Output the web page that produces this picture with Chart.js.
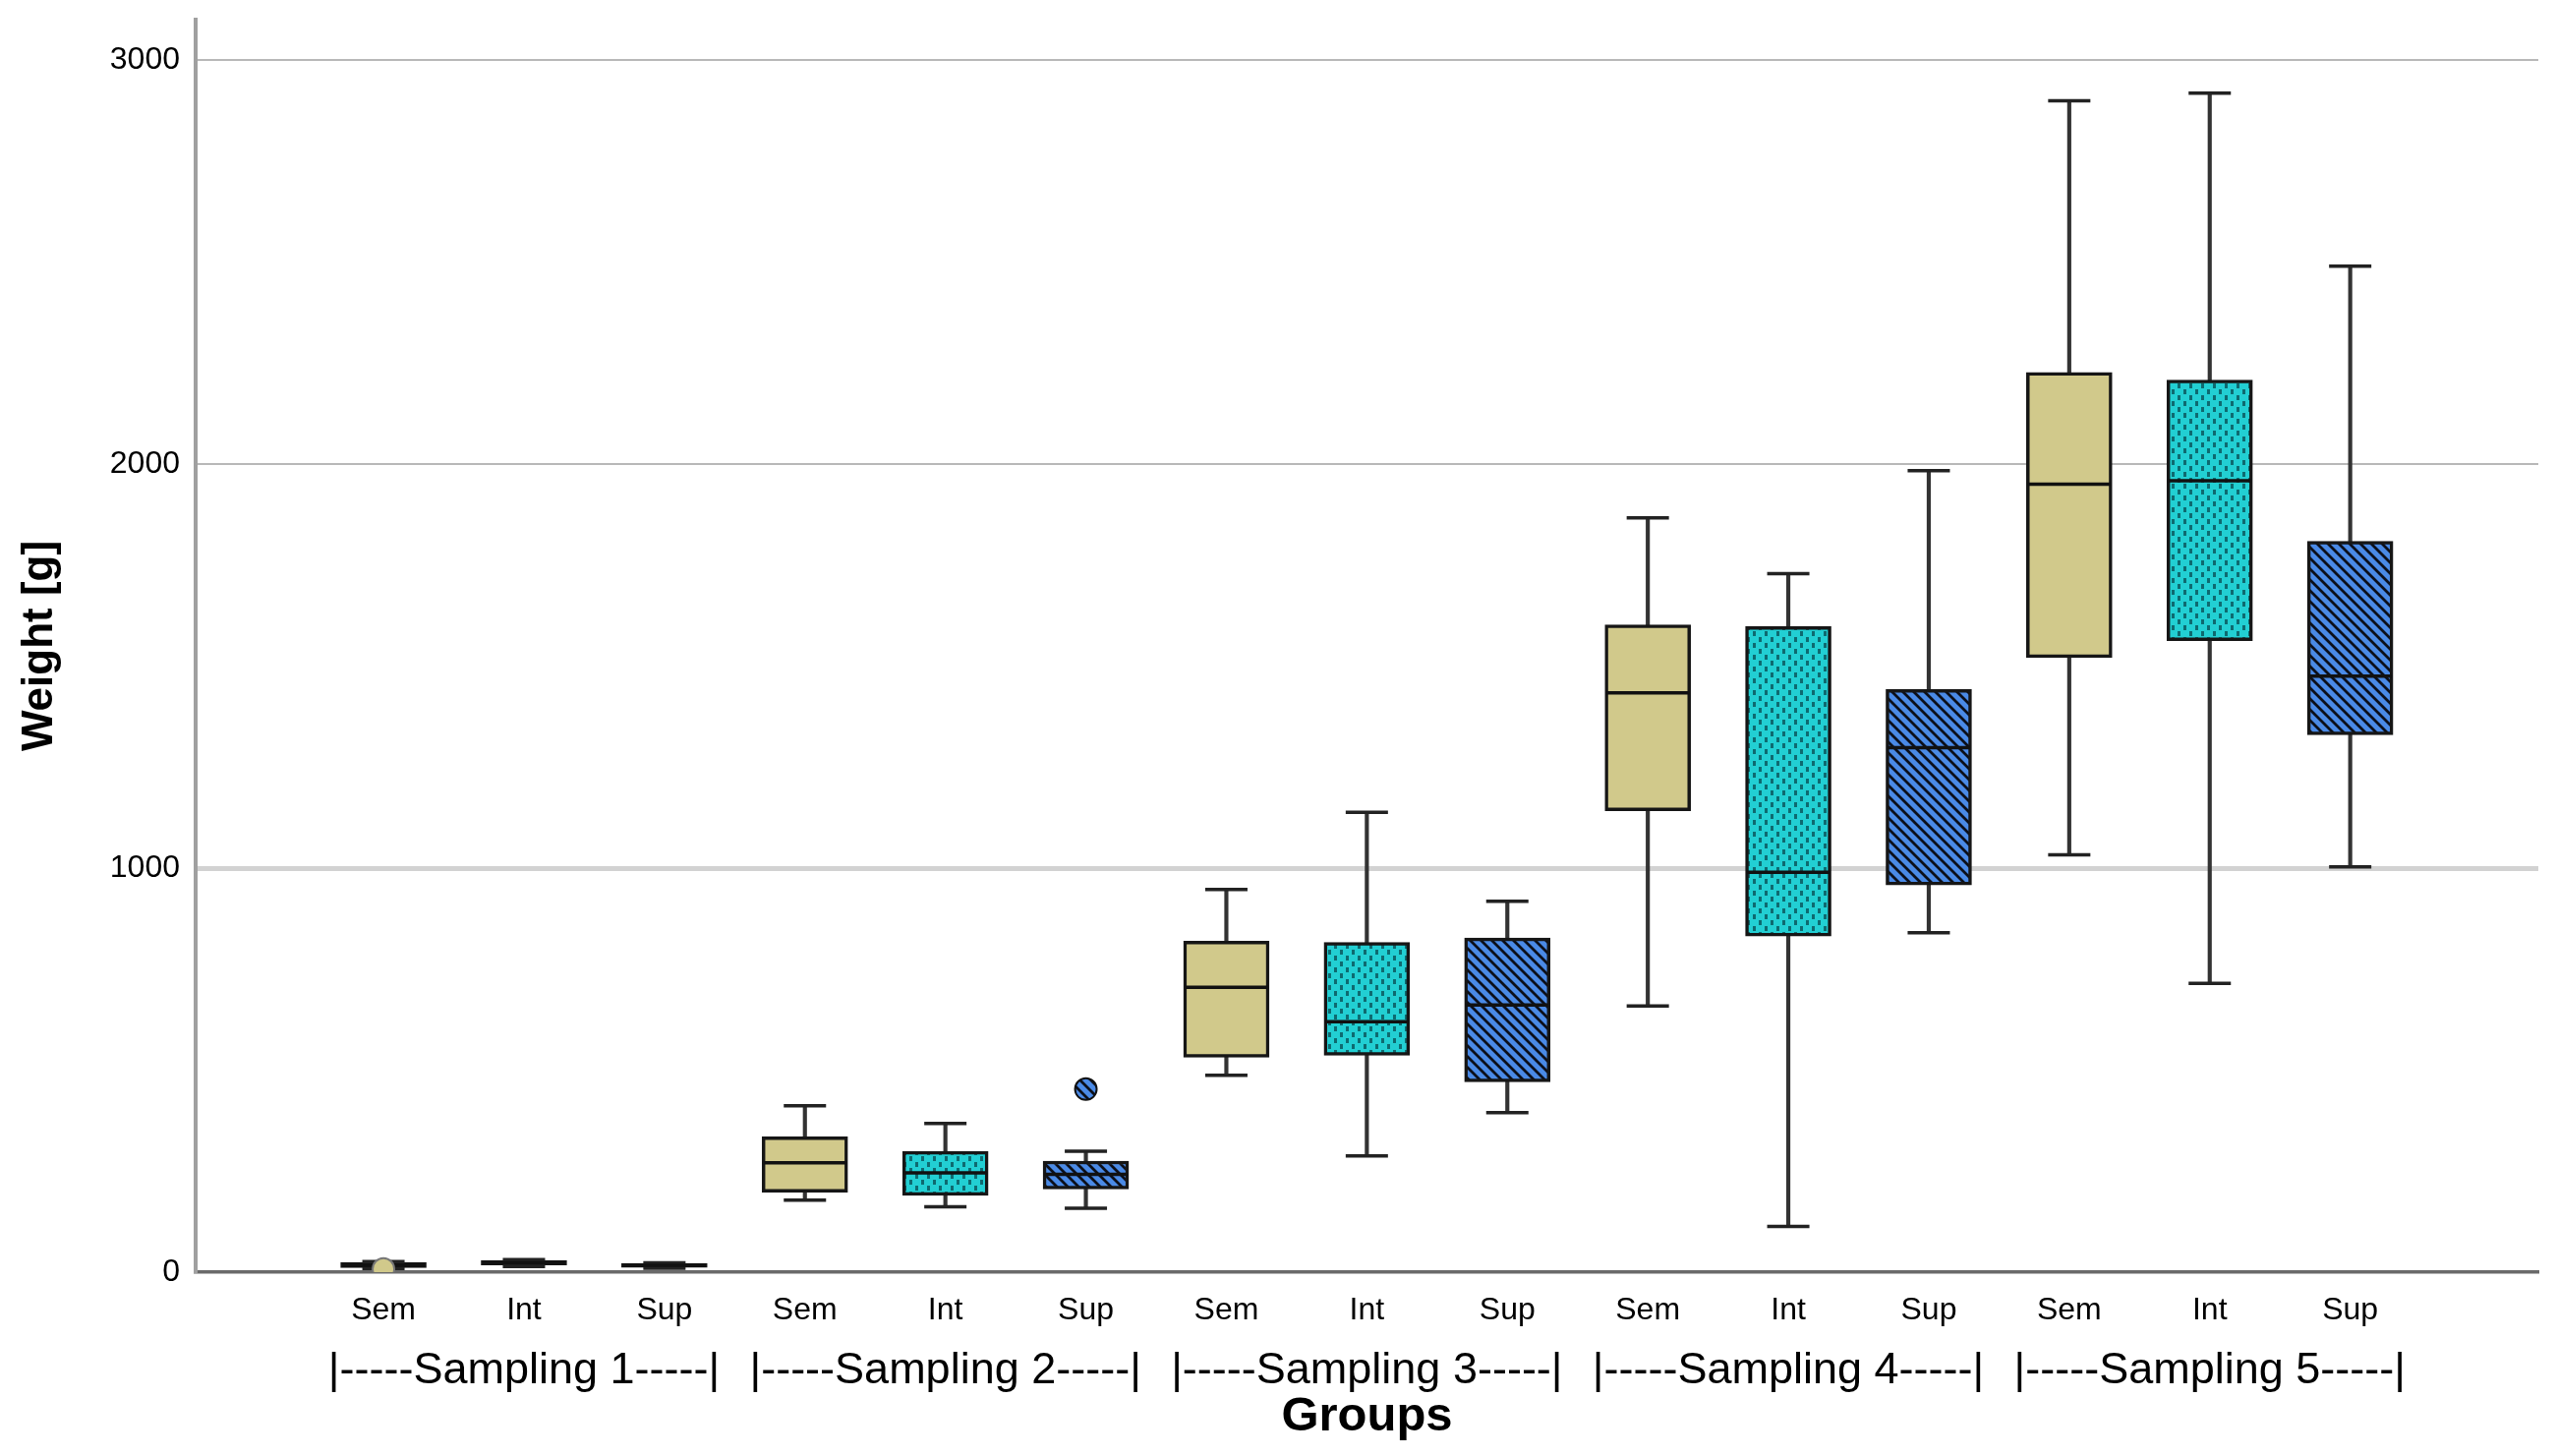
<!DOCTYPE html>
<html>
<head>
<meta charset="utf-8">
<title>Weight by sampling and layer</title>
<script src="https://cdn.jsdelivr.net/npm/chart.js@4.4.1/dist/chart.umd.min.js"></script>
<style>
  html, body { margin: 0; padding: 0; background: #fff; overflow: hidden; }
  #wrap { position: relative; width: 2601px; height: 1481px; }
</style>
</head>
<body>
<div id="wrap"><canvas id="boxChart"></canvas></div>
<script>
// groups on the x axis
const samplings = ['Sampling 1', 'Sampling 2', 'Sampling 3', 'Sampling 4', 'Sampling 5'];
const layers = ['Sem', 'Int', 'Sup'];

// box plot statistics, one value per box (Sem, Int, Sup for each sampling)
const whiskerLow  = [9, 14, 10, 178, 162, 158, 487, 288, 395, 659, 113, 840, 1033, 715, 1003];
const quartile1   = [11, 18, 12, 198, 190, 206, 532, 537, 471, 1142, 832, 958, 1521, 1563, 1330];
const medians     = [17, 24, 17, 271, 246, 242, 705, 620, 661, 1434, 990, 1298, 1950, 1959, 1475];
const quartile3   = [24, 29, 22, 335, 299, 275, 819, 816, 827, 1602, 1598, 1442, 2227, 2208, 1809];
const whiskerHigh = [26, 31, 23, 412, 368, 299, 947, 1138, 918, 1867, 1729, 1984, 2899, 2918, 2490];

// outliers: box index and value
const outlierBox    = [0, 5];
const outlierValues = [8, 453];

const yTicks = [0, 1000, 2000, 3000];

const labels = samplings.flatMap(() => layers);

Chart.defaults.font.family = '"Liberation Sans", Arial, sans-serif';
Chart.defaults.color = '#000';

function makePattern(w, h, paint) {
    const c = document.createElement('canvas');
    c.width = w;
    c.height = h;
    const g = c.getContext('2d');
    paint(g, w, h);
    return g.createPattern(c, 'repeat');
}

const semFill = '#D1C98B';

// cyan with small staggered dark dashes
const intFill = makePattern(12, 12, (g, w, h) => {
    g.fillStyle = '#22CFD3';
    g.fillRect(0, 0, w, h);
    g.fillStyle = '#0E6A70';
    g.fillRect(1, 0, 3, 5);
    g.fillRect(7, 6, 3, 5);
});

// blue with dark diagonal hatching
const supFill = makePattern(11, 11, (g, w, h) => {
    g.fillStyle = '#4A8AE6';
    g.fillRect(0, 0, w, h);
    g.strokeStyle = '#0b0f1a';
    g.lineWidth = 2.8;
    g.beginPath();
    for (const o of [-w, 0, w]) {
        g.moveTo(o - 2, -2);
        g.lineTo(o + w + 2, h + 2);
    }
    g.stroke();
});

const layerFills = [semFill, intFill, supFill];
const boxFills = labels.map((_, i) => layerFills[i % 3]);

const xMin = -1.337;
const xMax = 15.339;

// keep the axes from reserving room for overhanging tick labels
function noLabelPadding(s) {
    s.paddingTop = 0;
    s.paddingBottom = 0;
    s.paddingLeft = 0;
    s.paddingRight = 0;
}

const ctx = document.getElementById('boxChart').getContext('2d');
const chart = new Chart(ctx, {
    type: 'bar',
    data: {
        datasets: [
            {
                label: 'Box',
                data: labels.map((_, i) => ({ x: i, y: [quartile1[i], quartile3[i]] })),
                backgroundColor: boxFills,
                borderColor: '#161616',
                borderWidth: 3.5,
                borderSkipped: false,
                barThickness: 87,
                grouped: false,
                order: 4
            },
            {
                label: 'Whisker',
                data: labels.map((_, i) => ({ x: i, y: [whiskerLow[i], whiskerHigh[i]] })),
                backgroundColor: '#333333',
                borderWidth: 0,
                barThickness: 3.5,
                grouped: false,
                order: 5
            },
            {
                type: 'scatter',
                label: 'Upper cap',
                data: labels.map((_, i) => ({ x: i, y: whiskerHigh[i] })),
                pointStyle: 'line',
                radius: 21.5,
                borderColor: '#222',
                borderWidth: 3.5,
                order: 3
            },
            {
                type: 'scatter',
                label: 'Lower cap',
                data: labels.map((_, i) => ({ x: i, y: whiskerLow[i] })),
                pointStyle: 'line',
                radius: 21.5,
                borderColor: '#222',
                borderWidth: 3.5,
                order: 3
            },
            {
                type: 'scatter',
                label: 'Median',
                data: labels.map((_, i) => ({ x: i, y: medians[i] })),
                pointStyle: 'line',
                radius: 42,
                borderColor: '#111',
                borderWidth: 3.5,
                order: 2
            },
            {
                type: 'scatter',
                label: 'Outlier',
                data: outlierBox.map((b, k) => ({ x: b, y: outlierValues[k] })),
                pointStyle: 'circle',
                radius: 11,
                backgroundColor: outlierBox.map(b => boxFills[b]),
                borderColor: outlierBox.map(b => (b % 3 === 0 ? '#777' : '#111')),
                borderWidth: 2,
                order: 1
            }
        ]
    },
    options: {
        responsive: true,
        maintainAspectRatio: false,
        animation: false,
        events: [],
        layout: {
            autoPadding: false,
            padding: { top: 20, right: 19, left: 0, bottom: 0 }
        },
        plugins: {
            legend: { display: false },
            tooltip: { enabled: false }
        },
        scales: {
            x: {
                type: 'linear',
                position: 'bottom',
                bounds: 'data',
                offset: false,
                min: xMin,
                max: xMax,
                weight: 0,
                grid: { display: false, drawTicks: false },
                border: { display: true, color: '#6a6a6a', width: 3.5 },
                afterBuildTicks: (s) => { s.ticks = labels.map((_, i) => ({ value: i })); },
                ticks: {
                    autoSkip: false,
                    maxRotation: 0,
                    padding: 20,
                    font: { size: 32 },
                    color: '#000',
                    callback: (v) => labels[v]
                },
                afterFit: (s) => { s.height = 70; noLabelPadding(s); }
            },
            x2: {
                type: 'linear',
                position: 'bottom',
                bounds: 'data',
                offset: false,
                min: xMin,
                max: xMax,
                weight: 1,
                grid: { display: false, drawTicks: false },
                border: { display: false },
                afterBuildTicks: (s) => { s.ticks = samplings.map((_, i) => ({ value: i * 3 + 1 })); },
                ticks: {
                    autoSkip: false,
                    maxRotation: 0,
                    padding: 4,
                    font: { size: 45 },
                    color: '#000',
                    callback: (v) => '|-----' + samplings[(v - 1) / 3] + '-----|'
                },
                title: {
                    display: true,
                    text: 'Groups',
                    font: { size: 49, weight: 'bold' },
                    color: '#000',
                    padding: { top: 0, bottom: 10 }
                },
                afterFit: (s) => { s.height = 117; noLabelPadding(s); }
            },
            y: {
                min: 0,
                max: 3100,
                afterBuildTicks: (s) => { s.ticks = yTicks.map(v => ({ value: v })); },
                grid: {
                    drawTicks: false,
                    color: (c) => (c.tick && c.tick.value === 1000 ? '#d2d2d2' : '#b8b8b8'),
                    lineWidth: (c) => (c.tick && c.tick.value === 1000 ? 5 : 2)
                },
                border: { color: '#a0a0a0', width: 4 },
                ticks: {
                    padding: 16,
                    font: { size: 32 },
                    color: '#000',
                    callback: (v) => String(v)
                },
                title: {
                    display: true,
                    text: 'Weight [g]',
                    font: { size: 44, weight: 'bold' },
                    color: '#000',
                    padding: { top: 14, bottom: 0 }
                },
                afterFit: (s) => { s.width = 199; noLabelPadding(s); }
            }
        }
    }
});
</script>
</body>
</html>
